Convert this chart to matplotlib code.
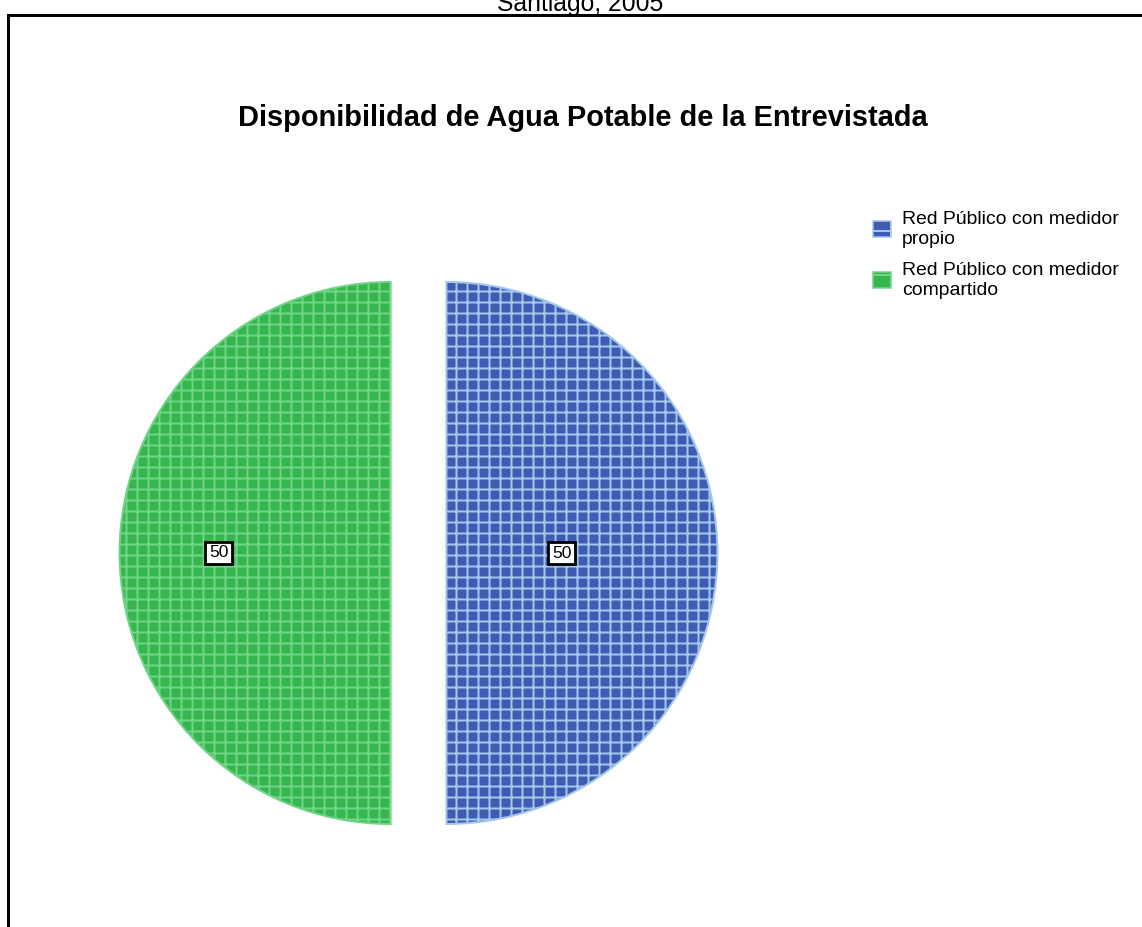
import matplotlib.pyplot as plt
import matplotlib.patches as mpatches
import numpy as np

# data
categories = ["Red Público con medidor\npropio", "Red Público con medidor\ncompartido"]
values = [50, 50]
value_labels = ["50", "50"]
title = "Disponibilidad de Agua Potable de la Entrevistada"
subtitle = "Santiago, 2005"

face_colors = ["#3E5CB1", "#35B64F"]
hatch_colors = ["#A3C6EC", "#70D487"]

W, H, DPI = 1142, 927, 132
fig = plt.figure(figsize=(W / DPI, H / DPI), dpi=DPI)
plt.rcParams['hatch.linewidth'] = 1.1
plt.rcParams['font.family'] = ['Liberation Sans', 'DejaVu Sans']

def px(x, y):
    # pixel (from top-left) -> figure fraction
    return x / W, 1 - y / H

def pt(p):
    # pixels -> points
    return p / DPI * 72

# outer frame
frame = mpatches.Rectangle(px(8, 940), (W + 20) / W, (940 - 15) / H, transform=fig.transFigure,
                           fill=False, edgecolor="black", lw=pt(3), clip_on=False)
fig.add_artist(frame)

# pie axes: square 600 px centered at (418.5, 553)
R = 271
side = 600
cx, cy = 418.5, 553
l, b = px(cx - side / 2, cy + side / 2)
ax = fig.add_axes([l, b, side / W, side / H])

wedges, _ = ax.pie(values, colors=face_colors, startangle=90, counterclock=False,
                   explode=[0.103, 0.103], radius=1,
                   wedgeprops=dict(linewidth=pt(2)))
for w, hc in zip(wedges, hatch_colors):
    w.set_edgecolor(hc)
    w.set_hatch("++")

lim = side / 2 / R
ax.set_xlim(-lim, lim)
ax.set_ylim(-lim, lim)
ax.set_aspect("equal")
ax.axis("off")

# value labels
label_dist = [0.425 + 0.103, 0.635 + 0.103]
for w, txt, d in zip(wedges, value_labels, label_dist):
    ang = np.deg2rad((w.theta1 + w.theta2) / 2)
    ax.text(d * np.cos(ang), d * np.sin(ang), txt, ha="center", va="center",
            fontsize=pt(17.5),
            bbox=dict(boxstyle="square,pad=0.22", facecolor="white", edgecolor="black", lw=pt(2.8)))

# title and subtitle
fig.text(*px(582.5, 125.7), title, ha="center", va="baseline", fontsize=pt(29),
         fontweight="bold")
fig.text(*px(580, 11), subtitle, ha="center", va="baseline", fontsize=pt(24.7))

# legend
fs = 19.4
handles = []
for fc, hc in zip(face_colors, hatch_colors):
    handles.append(mpatches.Patch(facecolor=fc, edgecolor=hc, hatch="+", lw=pt(1.5)))
leg = fig.legend(handles, categories, loc="upper left", bbox_to_anchor=px(873, 211),
                 frameon=False, prop=dict(size=pt(fs)), borderpad=0, borderaxespad=0,
                 handlelength=18 / fs, handleheight=18 / fs, handletextpad=11 / fs,
                 labelspacing=14 / fs)
for t in leg.get_texts():
    t.set_linespacing(1.22)

fig.savefig("out.png", dpi=DPI)
